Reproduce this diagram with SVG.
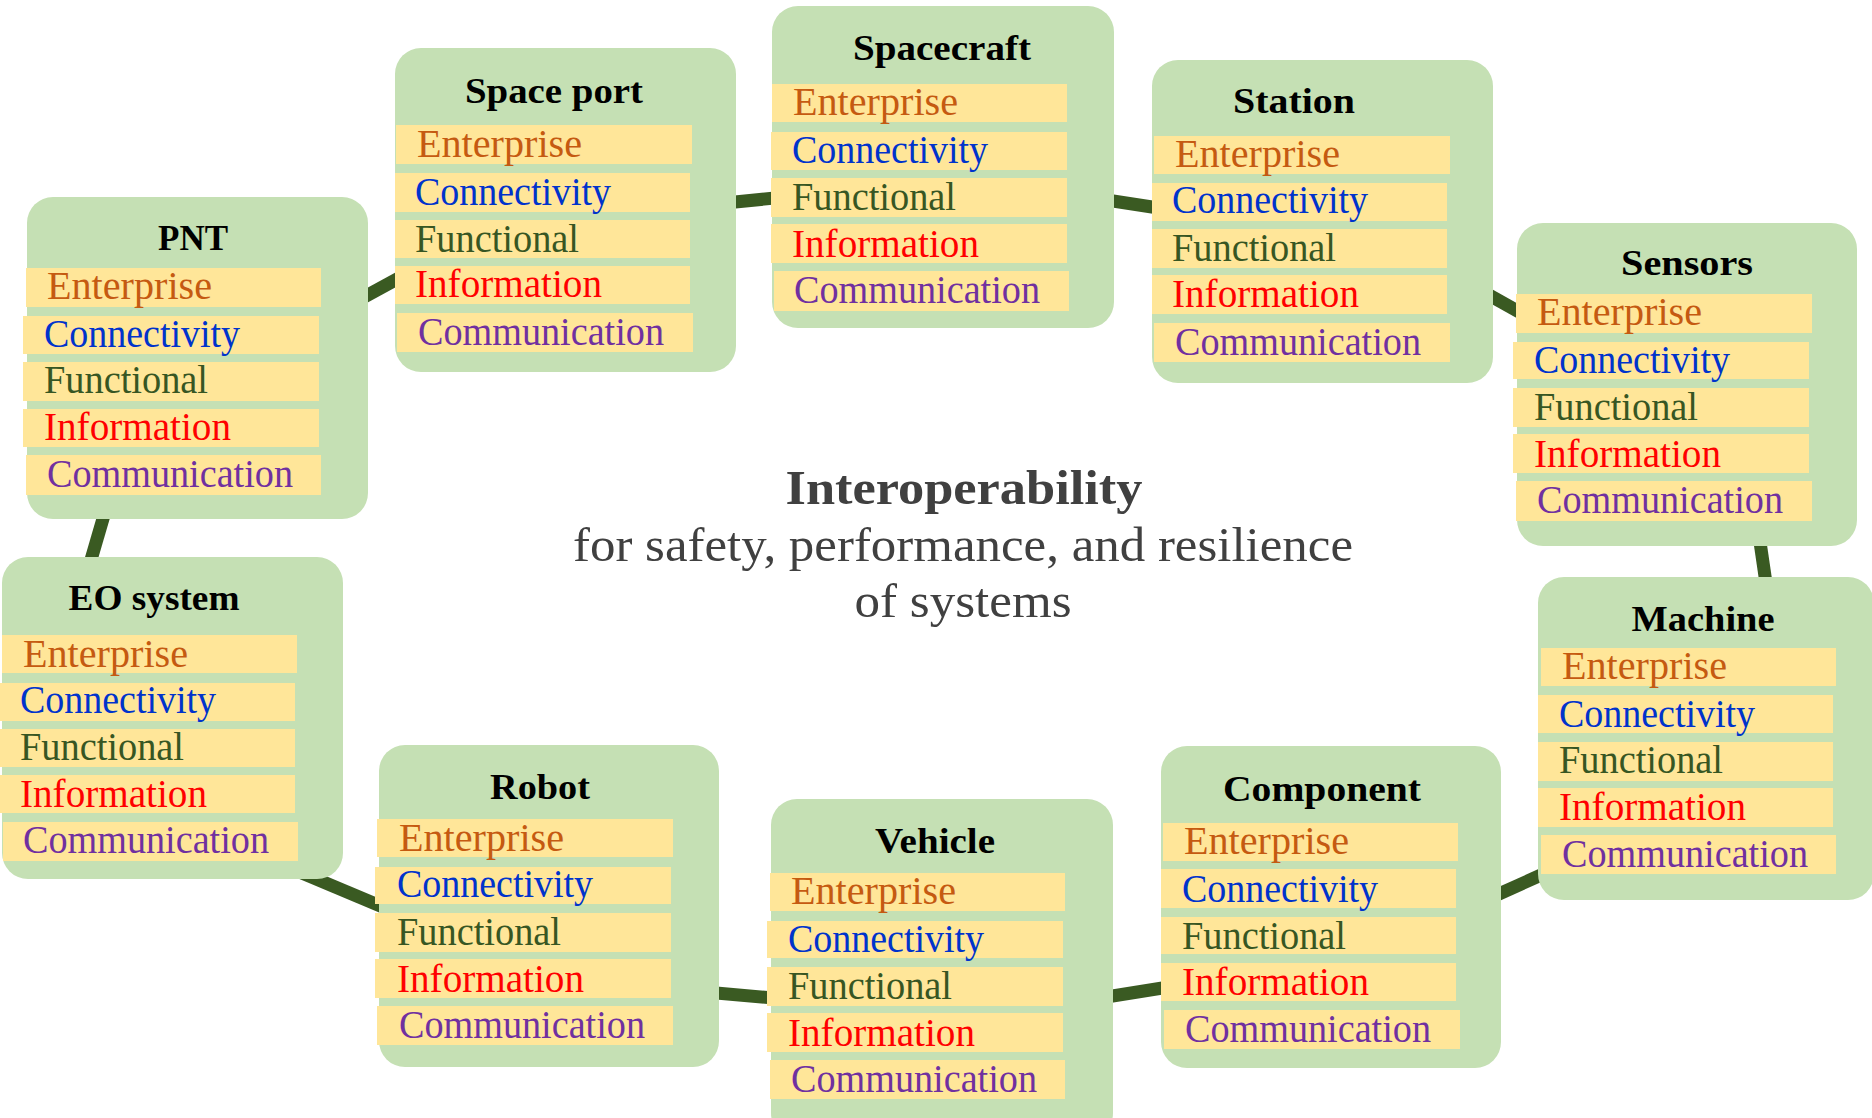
<svg xmlns="http://www.w3.org/2000/svg" width="1872" height="1118" viewBox="0 0 1872 1118">
<defs>
<style>
.box{fill:#C5E0B4;}
.row{fill:#FFE699;}
.ttl{font-family:"Liberation Serif","Times New Roman",serif;font-weight:bold;font-size:36px;fill:#000;text-anchor:middle;}
.lbl{font-family:"Liberation Serif","Times New Roman",serif;font-size:40px;}
.ent{fill:#C55A11;}
.con{fill:#0033CC;}
.fun{fill:#375623;}
.inf{fill:#FF0000;}
.com{fill:#7030A0;}
.link{stroke:#3A5A22;stroke-width:13;fill:none;stroke-linecap:butt;}
.center{font-family:"Liberation Serif","Times New Roman",serif;fill:#404040;text-anchor:middle;}
</style>
</defs>
<rect width="1872" height="1118" fill="#FFFFFF"/>
<g id="connectors">
<line class="link" x1="355" y1="302" x2="410" y2="272"/>
<line class="link" x1="725" y1="203" x2="785" y2="197"/>
<line class="link" x1="1100" y1="199" x2="1165" y2="209"/>
<line class="link" x1="1480" y1="290" x2="1530" y2="318"/>
<line class="link" x1="1759" y1="535" x2="1767" y2="590"/>
<line class="link" x1="1490" y1="898" x2="1550" y2="871"/>
<line class="link" x1="1100" y1="998" x2="1175" y2="986"/>
<line class="link" x1="705" y1="992" x2="785" y2="999"/>
<line class="link" x1="290" y1="868" x2="390" y2="910"/>
<line class="link" x1="107" y1="505" x2="88" y2="570"/>
</g>
<g id="center-title">
<text class="center" x="964" y="504" font-size="49" font-weight="bold" textLength="357" lengthAdjust="spacingAndGlyphs">Interoperability</text>
<text class="center" x="963" y="561" font-size="48" textLength="780" lengthAdjust="spacingAndGlyphs">for safety, performance, and resilience</text>
<text class="center" x="963" y="617" font-size="48" textLength="217" lengthAdjust="spacingAndGlyphs">of systems</text>
</g>
<g id="node-pnt">
<rect class="box" x="27" y="197" width="341" height="322" rx="26"/>
<text class="ttl" x="193" y="250" textLength="70" lengthAdjust="spacingAndGlyphs">PNT</text>
<rect class="row" x="26" y="268" width="295" height="39"/>
<rect class="row" x="23" y="316" width="296" height="38"/>
<rect class="row" x="23" y="362" width="296" height="39"/>
<rect class="row" x="23" y="409" width="296" height="38"/>
<rect class="row" x="26" y="455" width="295" height="40"/>
<text class="lbl ent" x="47" y="299" textLength="165" lengthAdjust="spacingAndGlyphs">Enterprise</text>
<text class="lbl con" x="44" y="347" textLength="196" lengthAdjust="spacingAndGlyphs">Connectivity</text>
<text class="lbl fun" x="44" y="393" textLength="164" lengthAdjust="spacingAndGlyphs">Functional</text>
<text class="lbl inf" x="44" y="440" textLength="187" lengthAdjust="spacingAndGlyphs">Information</text>
<text class="lbl com" x="47" y="487" textLength="246" lengthAdjust="spacingAndGlyphs">Communication</text>
</g>
<g id="node-spaceport">
<rect class="box" x="395" y="48" width="341" height="324" rx="26"/>
<text class="ttl" x="554" y="103" textLength="178" lengthAdjust="spacingAndGlyphs">Space port</text>
<rect class="row" x="396" y="125" width="296" height="39"/>
<rect class="row" x="395" y="173" width="295" height="39"/>
<rect class="row" x="395" y="220" width="295" height="38"/>
<rect class="row" x="395" y="266" width="295" height="38"/>
<rect class="row" x="397" y="313" width="296" height="39"/>
<text class="lbl ent" x="417" y="157" textLength="165" lengthAdjust="spacingAndGlyphs">Enterprise</text>
<text class="lbl con" x="415" y="205" textLength="196" lengthAdjust="spacingAndGlyphs">Connectivity</text>
<text class="lbl fun" x="415" y="252" textLength="164" lengthAdjust="spacingAndGlyphs">Functional</text>
<text class="lbl inf" x="415" y="297" textLength="187" lengthAdjust="spacingAndGlyphs">Information</text>
<text class="lbl com" x="418" y="345" textLength="246" lengthAdjust="spacingAndGlyphs">Communication</text>
</g>
<g id="node-spacecraft">
<rect class="box" x="772" y="6" width="342" height="322" rx="26"/>
<text class="ttl" x="942" y="60" textLength="178" lengthAdjust="spacingAndGlyphs">Spacecraft</text>
<rect class="row" x="772" y="84" width="295" height="38"/>
<rect class="row" x="771" y="132" width="296" height="38"/>
<rect class="row" x="771" y="178" width="296" height="39"/>
<rect class="row" x="771" y="224" width="296" height="39"/>
<rect class="row" x="774" y="271" width="295" height="40"/>
<text class="lbl ent" x="793" y="115" textLength="165" lengthAdjust="spacingAndGlyphs">Enterprise</text>
<text class="lbl con" x="792" y="163" textLength="196" lengthAdjust="spacingAndGlyphs">Connectivity</text>
<text class="lbl fun" x="792" y="210" textLength="164" lengthAdjust="spacingAndGlyphs">Functional</text>
<text class="lbl inf" x="792" y="257" textLength="187" lengthAdjust="spacingAndGlyphs">Information</text>
<text class="lbl com" x="794" y="303" textLength="246" lengthAdjust="spacingAndGlyphs">Communication</text>
</g>
<g id="node-station">
<rect class="box" x="1152" y="60" width="341" height="323" rx="26"/>
<text class="ttl" x="1294" y="113" textLength="122" lengthAdjust="spacingAndGlyphs">Station</text>
<rect class="row" x="1154" y="136" width="296" height="38"/>
<rect class="row" x="1152" y="183" width="295" height="38"/>
<rect class="row" x="1152" y="229" width="295" height="39"/>
<rect class="row" x="1152" y="275" width="295" height="39"/>
<rect class="row" x="1154" y="323" width="296" height="39"/>
<text class="lbl ent" x="1175" y="167" textLength="165" lengthAdjust="spacingAndGlyphs">Enterprise</text>
<text class="lbl con" x="1172" y="213" textLength="196" lengthAdjust="spacingAndGlyphs">Connectivity</text>
<text class="lbl fun" x="1172" y="261" textLength="164" lengthAdjust="spacingAndGlyphs">Functional</text>
<text class="lbl inf" x="1172" y="307" textLength="187" lengthAdjust="spacingAndGlyphs">Information</text>
<text class="lbl com" x="1175" y="355" textLength="246" lengthAdjust="spacingAndGlyphs">Communication</text>
</g>
<g id="node-sensors">
<rect class="box" x="1517" y="223" width="340" height="323" rx="26"/>
<text class="ttl" x="1687" y="275" textLength="132" lengthAdjust="spacingAndGlyphs">Sensors</text>
<rect class="row" x="1516" y="294" width="296" height="39"/>
<rect class="row" x="1513" y="342" width="296" height="37"/>
<rect class="row" x="1513" y="388" width="296" height="39"/>
<rect class="row" x="1513" y="434" width="296" height="39"/>
<rect class="row" x="1516" y="481" width="296" height="40"/>
<text class="lbl ent" x="1537" y="325" textLength="165" lengthAdjust="spacingAndGlyphs">Enterprise</text>
<text class="lbl con" x="1534" y="373" textLength="196" lengthAdjust="spacingAndGlyphs">Connectivity</text>
<text class="lbl fun" x="1534" y="420" textLength="164" lengthAdjust="spacingAndGlyphs">Functional</text>
<text class="lbl inf" x="1534" y="467" textLength="187" lengthAdjust="spacingAndGlyphs">Information</text>
<text class="lbl com" x="1537" y="513" textLength="246" lengthAdjust="spacingAndGlyphs">Communication</text>
</g>
<g id="node-machine">
<rect class="box" x="1538" y="577" width="336" height="323" rx="26"/>
<text class="ttl" x="1703" y="631" textLength="143" lengthAdjust="spacingAndGlyphs">Machine</text>
<rect class="row" x="1541" y="648" width="295" height="38"/>
<rect class="row" x="1538" y="695" width="295" height="38"/>
<rect class="row" x="1538" y="742" width="295" height="39"/>
<rect class="row" x="1538" y="788" width="295" height="39"/>
<rect class="row" x="1541" y="835" width="295" height="39"/>
<text class="lbl ent" x="1562" y="679" textLength="165" lengthAdjust="spacingAndGlyphs">Enterprise</text>
<text class="lbl con" x="1559" y="727" textLength="196" lengthAdjust="spacingAndGlyphs">Connectivity</text>
<text class="lbl fun" x="1559" y="773" textLength="164" lengthAdjust="spacingAndGlyphs">Functional</text>
<text class="lbl inf" x="1559" y="820" textLength="187" lengthAdjust="spacingAndGlyphs">Information</text>
<text class="lbl com" x="1562" y="867" textLength="246" lengthAdjust="spacingAndGlyphs">Communication</text>
</g>
<g id="node-component">
<rect class="box" x="1161" y="746" width="340" height="322" rx="26"/>
<text class="ttl" x="1322" y="801" textLength="198" lengthAdjust="spacingAndGlyphs">Component</text>
<rect class="row" x="1163" y="823" width="295" height="38"/>
<rect class="row" x="1161" y="869" width="295" height="39"/>
<rect class="row" x="1161" y="917" width="295" height="37"/>
<rect class="row" x="1161" y="963" width="295" height="38"/>
<rect class="row" x="1164" y="1010" width="296" height="39"/>
<text class="lbl ent" x="1184" y="854" textLength="165" lengthAdjust="spacingAndGlyphs">Enterprise</text>
<text class="lbl con" x="1182" y="902" textLength="196" lengthAdjust="spacingAndGlyphs">Connectivity</text>
<text class="lbl fun" x="1182" y="949" textLength="164" lengthAdjust="spacingAndGlyphs">Functional</text>
<text class="lbl inf" x="1182" y="995" textLength="187" lengthAdjust="spacingAndGlyphs">Information</text>
<text class="lbl com" x="1185" y="1042" textLength="246" lengthAdjust="spacingAndGlyphs">Communication</text>
</g>
<g id="node-vehicle">
<rect class="box" x="771" y="799" width="342" height="340" rx="26"/>
<text class="ttl" x="935" y="853" textLength="120" lengthAdjust="spacingAndGlyphs">Vehicle</text>
<rect class="row" x="770" y="873" width="295" height="38"/>
<rect class="row" x="767" y="921" width="296" height="37"/>
<rect class="row" x="767" y="967" width="296" height="39"/>
<rect class="row" x="767" y="1013" width="296" height="39"/>
<rect class="row" x="770" y="1060" width="295" height="39"/>
<text class="lbl ent" x="791" y="904" textLength="165" lengthAdjust="spacingAndGlyphs">Enterprise</text>
<text class="lbl con" x="788" y="952" textLength="196" lengthAdjust="spacingAndGlyphs">Connectivity</text>
<text class="lbl fun" x="788" y="999" textLength="164" lengthAdjust="spacingAndGlyphs">Functional</text>
<text class="lbl inf" x="788" y="1046" textLength="187" lengthAdjust="spacingAndGlyphs">Information</text>
<text class="lbl com" x="791" y="1092" textLength="246" lengthAdjust="spacingAndGlyphs">Communication</text>
</g>
<g id="node-robot">
<rect class="box" x="379" y="745" width="340" height="322" rx="26"/>
<text class="ttl" x="540" y="799" textLength="100" lengthAdjust="spacingAndGlyphs">Robot</text>
<rect class="row" x="377" y="819" width="296" height="38"/>
<rect class="row" x="375" y="867" width="296" height="37"/>
<rect class="row" x="375" y="913" width="296" height="39"/>
<rect class="row" x="375" y="959" width="296" height="39"/>
<rect class="row" x="377" y="1006" width="296" height="39"/>
<text class="lbl ent" x="399" y="851" textLength="165" lengthAdjust="spacingAndGlyphs">Enterprise</text>
<text class="lbl con" x="397" y="897" textLength="196" lengthAdjust="spacingAndGlyphs">Connectivity</text>
<text class="lbl fun" x="397" y="945" textLength="164" lengthAdjust="spacingAndGlyphs">Functional</text>
<text class="lbl inf" x="397" y="992" textLength="187" lengthAdjust="spacingAndGlyphs">Information</text>
<text class="lbl com" x="399" y="1038" textLength="246" lengthAdjust="spacingAndGlyphs">Communication</text>
</g>
<g id="node-eosystem">
<rect class="box" x="2" y="557" width="341" height="322" rx="26"/>
<text class="ttl" x="154" y="610" textLength="171" lengthAdjust="spacingAndGlyphs">EO system</text>
<rect class="row" x="2" y="635" width="295" height="38"/>
<rect class="row" x="0" y="683" width="295" height="38"/>
<rect class="row" x="0" y="729" width="295" height="38"/>
<rect class="row" x="0" y="775" width="295" height="38"/>
<rect class="row" x="3" y="822" width="295" height="39"/>
<text class="lbl ent" x="23" y="667" textLength="165" lengthAdjust="spacingAndGlyphs">Enterprise</text>
<text class="lbl con" x="20" y="713" textLength="196" lengthAdjust="spacingAndGlyphs">Connectivity</text>
<text class="lbl fun" x="20" y="760" textLength="164" lengthAdjust="spacingAndGlyphs">Functional</text>
<text class="lbl inf" x="20" y="807" textLength="187" lengthAdjust="spacingAndGlyphs">Information</text>
<text class="lbl com" x="23" y="853" textLength="246" lengthAdjust="spacingAndGlyphs">Communication</text>
</g>
</svg>
